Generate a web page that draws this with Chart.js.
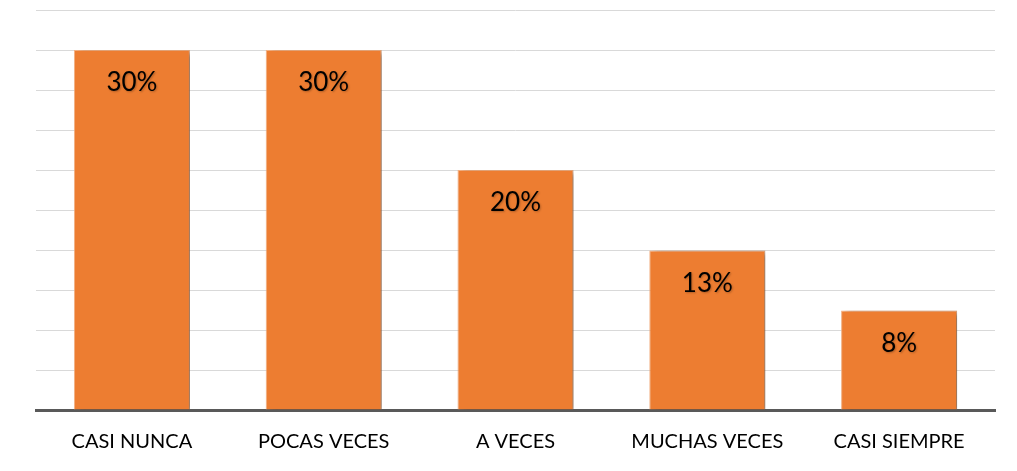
<!DOCTYPE html>
<html>
<head>
<meta charset="utf-8">
<script src="https://cdn.jsdelivr.net/npm/chart.js@4"></script>
<style>
  html, body { margin: 0; padding: 0; background: #fff; }
  #wrap { width: 1017px; height: 471px; }
</style>
</head>
<body>
<div id="wrap"><canvas id="myChart" width="1017" height="471"></canvas></div>
<script>
const categories = ["CASI NUNCA", "POCAS VECES", "A VECES", "MUCHAS VECES", "CASI SIEMPRE"];
const values = [30, 30, 20, 13.3, 8.3];
const valueLabels = ["30%", "30%", "20%", "13%", "8%"];
const gridValues = [0, 10/3, 20/3, 10, 40/3, 50/3, 20, 70/3, 80/3, 30, 100/3];

const barShadow = {
  id: 'barShadow',
  beforeDatasetsDraw(chart) {
    const ctx = chart.ctx;
    ctx.save();
    ctx.shadowColor = 'rgba(0,0,0,0.4)';
    ctx.shadowBlur = 6;
    ctx.shadowOffsetX = 5;
    ctx.shadowOffsetY = 2;
  },
  afterDatasetsDraw(chart) {
    chart.ctx.restore();
  }
};

const valueText = {
  id: 'valueText',
  afterDatasetsDraw(chart) {
    const ctx = chart.ctx;
    const meta = chart.getDatasetMeta(0);
    ctx.save();
    ctx.font = '26px Lato, "Open Sans", sans-serif';
    ctx.fillStyle = '#000';
    ctx.textAlign = 'center';
    ctx.textBaseline = 'middle';
    ctx.shadowColor = 'rgba(0,0,0,0.25)';
    ctx.shadowBlur = 2;
    ctx.shadowOffsetX = 1;
    ctx.shadowOffsetY = 1;
    meta.data.forEach((bar, i) => {
      ctx.fillText(valueLabels[i], bar.x, bar.y + 33);
    });
    ctx.restore();
  }
};

new Chart(document.getElementById('myChart').getContext('2d'), {
  type: 'bar',
  data: {
    labels: categories,
    datasets: [{
      data: values,
      backgroundColor: '#ed7d31',
      borderColor: '#f4b183',
      borderWidth: 1,
      categoryPercentage: 1,
      barPercentage: 0.605
    }]
  },
  options: {
    responsive: false,
    animation: false,
    layout: { padding: { left: 36, right: 22, top: 10, bottom: 5 } },
    plugins: { legend: { display: false }, tooltip: { enabled: false } },
    scales: {
      x: {
        grid: { display: false },
        border: { color: '#595959', width: 3 },
        ticks: {
          color: '#000',
          font: { family: 'Lato, "Open Sans", sans-serif', size: 20 },
          padding: 12
        }
      },
      y: {
        min: 0,
        max: 100 / 3,
        afterBuildTicks: axis => { axis.ticks = gridValues.map(v => ({ value: v })); },
        ticks: { display: false },
        grid: { color: '#d9d9d9', lineWidth: 1, drawTicks: false },
        border: { display: false }
      }
    }
  },
  plugins: [barShadow, valueText]
});
</script>
</body>
</html>
